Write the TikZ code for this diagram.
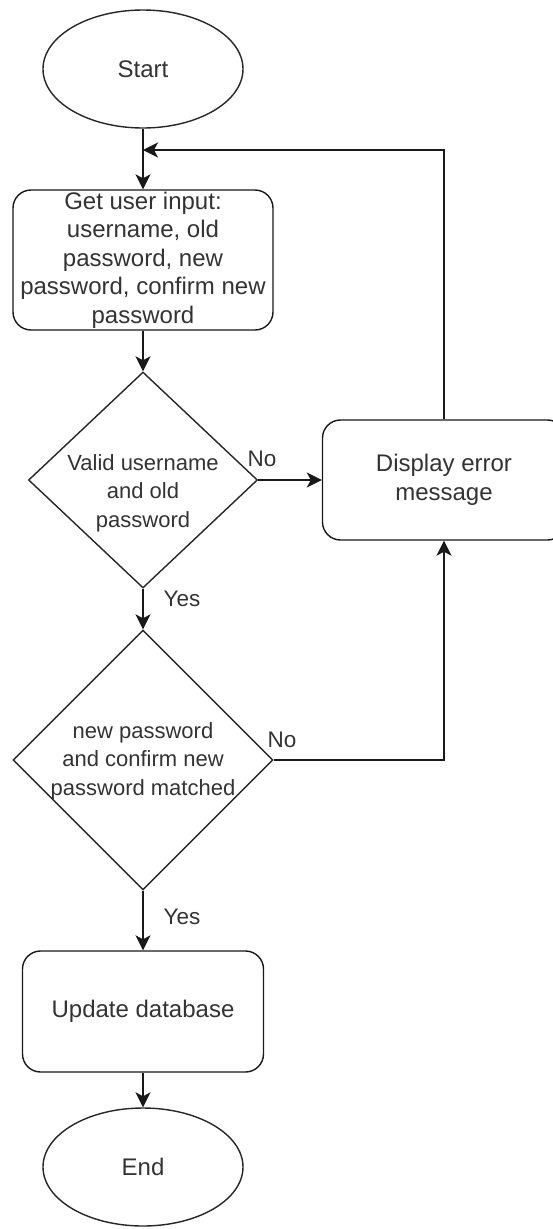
\documentclass[tikz,border=0pt]{standalone}
\usepackage{fontspec}
\setmainfont{Liberation Sans}
\usetikzlibrary{shapes.geometric,arrows.meta}

\begin{document}
\begin{tikzpicture}[x=1pt,y=-1pt,
  line width=1.4pt,
  flow/.style={draw=black!90, -{Stealth[length=15pt,width=15pt,inset=4pt]}},
  term/.style={draw=black!85, ellipse, inner sep=0pt, minimum width=200pt, minimum height=118pt,
    text=black!80, font=\fontsize{24pt}{28.5pt}\selectfont},
  proc/.style={draw=black!90, rounded corners=18pt, inner sep=0pt, align=center,
    text=black!80, font=\fontsize{24pt}{28.5pt}\selectfont},
  decision/.style={draw=black!85, diamond, inner sep=0pt},
  dtext/.style={align=center, inner sep=0pt, text=black!80, font=\fontsize{22pt}{28.5pt}\selectfont},
  lbl/.style={inner sep=0pt, text=black!80, font=\fontsize{22.5pt}{27pt}\selectfont}
]
\useasboundingbox (0,0) rectangle (553,1229);
\clip (0,0) rectangle (553,1229);
\fill[white] (0,0) rectangle (553,1229);

% process steps
\node[term] (start) at (143,69) {Start};
\node[proc, minimum width=260pt, minimum height=140pt] (input) at (143,260)
  {Get user input:\\username, old\\password, new\\password, confirm new\\password};
\node[decision, minimum width=229pt, minimum height=216pt] (valid) at (143,480) {};
\node[dtext] (validtxt) at (143,493) {Valid username\\and old\\password};
\node[decision, minimum width=260pt, minimum height=260pt] (match) at (143,760) {};
\node[dtext] (matchtxt) at (143,761) {new password\\and confirm new\\password matched};
\node[proc, minimum width=243pt, minimum height=120pt] (error) at (444,480) {Display error\\message};
\node[proc, minimum width=241pt, minimum height=121pt] (update) at (143,1011.5) {Update database};
\node[term] (end) at (143,1167) {End};

% loop-back junction on the entry line
\coordinate (loop) at (143,150);

% connectors
\draw[flow] (start.south) -- (input.north);
\draw[flow] (input.south) -- (valid.north);
\draw[flow] (valid.east) -- (error.west);
\draw[flow] (valid.south) -- (match.north);
\draw[flow] (match.east) -| (error.south);
\draw[flow] (error.north) |- (loop);
\draw[flow] (match.south) -- (update.north);
\draw[flow] (update.south) -- (end.north);

% branch labels
\node[lbl] (no1) at (262,459) {No};
\node[lbl] (yes1) at (182,599) {Yes};
\node[lbl] (no2) at (282,740) {No};
\node[lbl] (yes2) at (182,917) {Yes};
\end{tikzpicture}
\end{document}
